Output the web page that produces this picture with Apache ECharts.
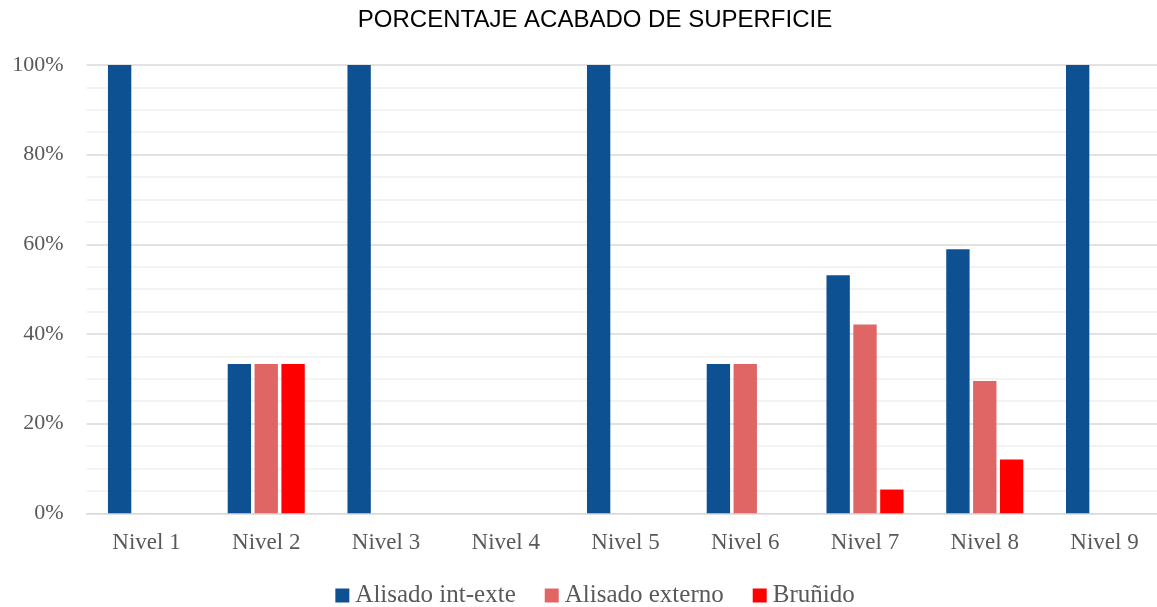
<!DOCTYPE html>
<html>
<head>
<meta charset="utf-8">
<script src="https://cdn.jsdelivr.net/npm/echarts@6/dist/echarts.min.js"></script>
<style>
  html, body { margin: 0; padding: 0; background: #ffffff; overflow: hidden; }
  #chart { width: 1190px; height: 607px; }
</style>
</head>
<body>
<div id="chart"></div>
<script>
// Surface finish share per level (percent)
const categories = ['Nivel 1', 'Nivel 2', 'Nivel 3', 'Nivel 4', 'Nivel 5', 'Nivel 6', 'Nivel 7', 'Nivel 8', 'Nivel 9'];
const alisadoIntExte = [100, 33.3, 100, 0, 100, 33.3, 53.1, 58.9, 100];
const alisadoExterno = [0, 33.3, 0, 0, 0, 33.3, 42.1, 29.5, 0];
const brunido = [0, 33.3, 0, 0, 0, 0, 5.3, 12.0, 0];
const yTicks = [0, 20, 40, 60, 80, 100];

const serif = '"Liberation Serif", "DejaVu Serif", serif';
const grey = '#595959';

function barSeries(name, data, color) {
  return {
    name: name,
    type: 'bar',
    data: data,
    barWidth: '19.5%',
    barGap: '15%',
    itemStyle: { color: color },
    emphasis: { disabled: true }
  };
}

const chart = echarts.init(document.getElementById('chart'), null, { renderer: 'canvas' });
chart.setOption({
  animation: false,
  backgroundColor: '#ffffff',
  title: {
    text: 'PORCENTAJE ACABADO DE SUPERFICIE',
    left: 'center',
    top: 3,
    textStyle: {
      fontFamily: '"Liberation Sans", Arial, sans-serif',
      fontSize: 24,
      fontWeight: 'normal',
      color: '#000000'
    }
  },
  legend: {
    top: 583,
    left: 'center',
    padding: 0,
    itemWidth: 14,
    itemHeight: 14,
    itemGap: 29,
    icon: 'rect',
    textStyle: { fontFamily: serif, fontSize: 25, color: grey, padding: [0, 0, 0, 1] },
    data: ['Alisado int-exte', 'Alisado externo', 'Bruñido']
  },
  grid: { left: 86.6, right: 25.6, top: 65, bottom: 93.7, containLabel: false },
  xAxis: {
    type: 'category',
    data: categories,
    axisTick: { show: false },
    axisLine: { lineStyle: { color: '#d9d9d9', width: 1 } },
    axisLabel: { fontFamily: serif, fontSize: 23, color: grey, margin: 18 }
  },
  yAxis: {
    type: 'value',
    min: yTicks[0],
    max: yTicks[yTicks.length - 1],
    interval: 20,
    axisLine: { show: false },
    axisTick: { show: false },
    axisLabel: { fontFamily: serif, fontSize: 22, color: grey, margin: 23, padding: [6, 0, 0, 0], formatter: '{value}%' },
    splitLine: { lineStyle: { color: '#d9d9d9', width: 1.5 } },
    minorTick: { show: false, splitNumber: 4 },
    minorSplitLine: { show: true, lineStyle: { color: '#f0f0f0', width: 1.5 } }
  },
  series: [
    barSeries('Alisado int-exte', alisadoIntExte, '#0e5192'),
    barSeries('Alisado externo', alisadoExterno, '#e06666'),
    barSeries('Bruñido', brunido, '#ff0000')
  ]
});
</script>
</body>
</html>
